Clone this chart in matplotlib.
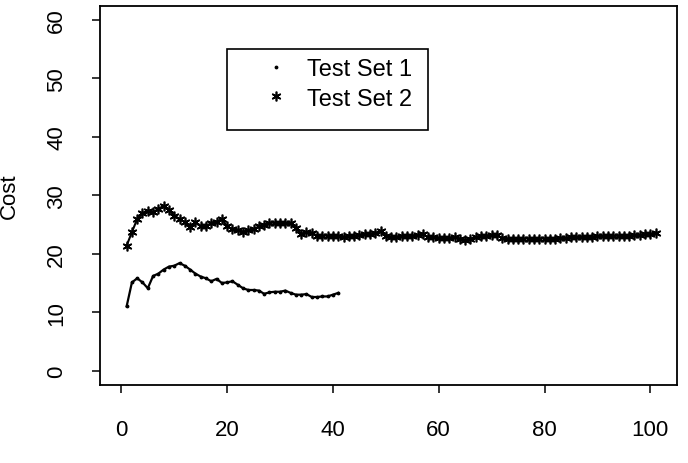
import numpy as np
import matplotlib
matplotlib.use("Agg")
import matplotlib.pyplot as plt
from matplotlib.lines import Line2D
from matplotlib.patches import Rectangle

plt.rcParams['font.family'] = ['Liberation Sans', 'DejaVu Sans']

# Test Set 1: iterations 1..41
x1 = np.arange(1, 42)
cost1 = [11.0, 15.1, 15.8, 15.1, 14.1, 16.2, 16.6, 17.3, 17.8, 17.95,
         18.4, 17.95, 17.3, 16.6, 16.1, 15.8, 15.3, 15.7, 15.0, 15.1,
         15.3, 14.7, 14.1, 13.8, 13.8, 13.7, 13.15, 13.4, 13.5, 13.5,
         13.7, 13.3, 13.0, 13.0, 13.1, 12.6, 12.6, 12.7, 12.7, 13.0,
         13.3]

# Test Set 2: iterations 1..101
x2 = np.arange(1, 102)
cost2 = [21.4, 23.7, 25.95, 26.9, 27.4, 27.1, 27.7, 28.2, 27.55, 26.5,
         25.95, 25.4, 24.6, 25.4, 24.7, 24.7, 25.3, 25.5, 25.95, 24.7,
         24.2, 24.0, 23.8, 24.0, 24.2, 24.7, 25.0, 25.3, 25.3, 25.3,
         25.3, 25.2, 24.4, 23.4, 23.7, 23.6, 23.1, 23.1, 23.1, 23.1,
         23.0, 22.9, 23.0, 23.0, 23.2, 23.3, 23.4, 23.5, 23.9, 23.0,
         22.9, 22.9, 23.0, 23.0, 23.1, 23.2, 23.4, 22.8, 22.8, 22.7,
         22.7, 22.7, 22.8, 22.6, 22.3, 22.6, 22.8, 23.0, 23.1, 23.2,
         23.2, 22.7, 22.6, 22.6, 22.6, 22.6, 22.6, 22.6, 22.6, 22.6,
         22.6, 22.6, 22.7, 22.7, 22.8, 22.8, 22.9, 22.9, 22.9, 23.0,
         23.0, 23.0, 23.0, 23.1, 23.1, 23.1, 23.2, 23.2, 23.3, 23.3,
         23.6]

labels = ['Test Set 1', 'Test Set 2']
xticks = [0, 20, 40, 60, 80, 100]
yticks = [0, 10, 20, 30, 40, 50, 60]

fig = plt.figure(figsize=(6.88, 4.64), dpi=100)
ax = fig.add_axes([0.1453, 0.1688, 0.8387, 0.8162])

asterisco = (6, 2, 0)
ax.plot(x1, cost1, color='black', lw=1.6, marker='.', ms=3.5)
ax.plot(x2, cost2, color='black', lw=1.5, marker=asterisco, ms=7, mew=1.2)

ax.set_xlim(-4.04, 105.04)
ax.set_ylim(-2.4, 62.4)
ax.set_xticks(xticks)
ax.set_yticks(yticks)

for s in ax.spines.values():
    s.set_linewidth(1.3)
ax.tick_params(direction='out', length=5.5, width=1.1, labelsize=16)
ax.tick_params(axis='x', pad=19)
ax.tick_params(axis='y', pad=18, labelrotation=90)
for t in ax.get_yticklabels():
    t.set_va('center')

ax.set_ylabel('Cost', fontsize=16)
ax.yaxis.set_label_coords(-0.138, 0.5)

# leyenda: entradas sin marco + marco aparte (estilo R)
handles = [Line2D([], [], color='black', ls='none', marker='.', ms=3.5),
           Line2D([], [], color='black', ls='none', marker=asterisco, ms=7, mew=1.2)]
ax.legend(handles, labels, loc='upper left', bbox_to_anchor=(0.2634, 0.863),
          frameon=False, borderpad=0, borderaxespad=0, handlelength=2.0,
          handletextpad=0.35, labelspacing=0.33, fontsize=17)
ax.add_patch(Rectangle((0.2201, 0.672), 0.3484, 0.214, transform=ax.transAxes,
                       fill=False, edgecolor='black', lw=1.2))

fig.savefig('out.png', dpi=100)
